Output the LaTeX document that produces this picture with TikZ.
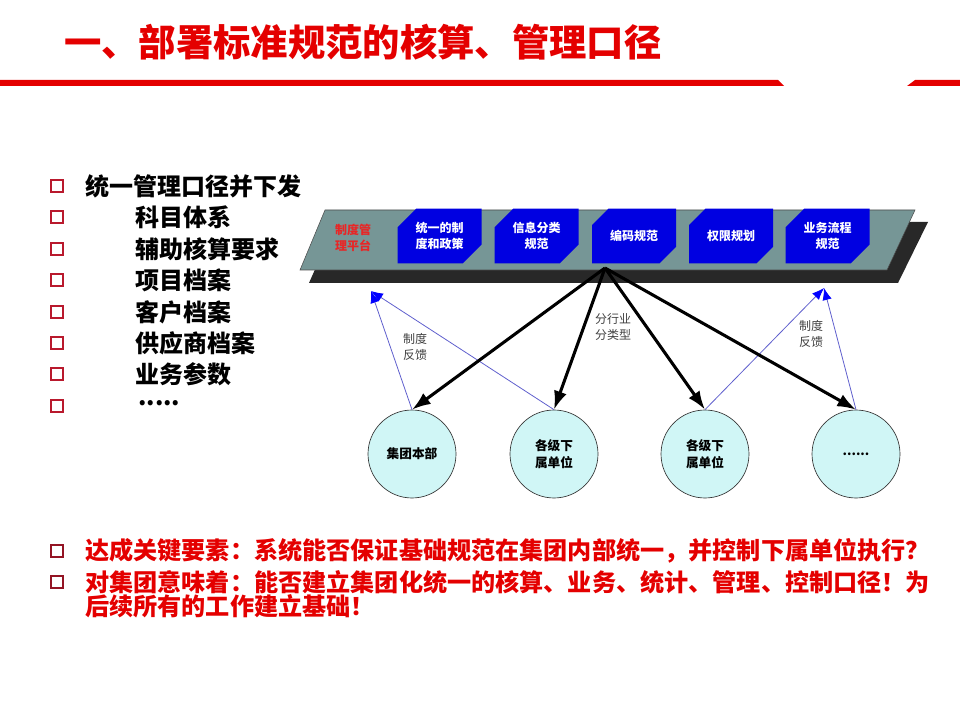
\documentclass[tikz,border=0pt]{standalone}
\usepackage{fontspec}
\setmainfont{Noto Sans CJK SC}
\usetikzlibrary{arrows.meta,shapes.misc}
\definecolor{titlered}{RGB}{228,0,0}
\definecolor{checkred}{RGB}{185,25,45}
\definecolor{ruleblue}{RGB}{0,0,225}
\definecolor{platgray}{RGB}{118,150,150}
\definecolor{shadowgray}{RGB}{40,40,40}
\definecolor{unitcyan}{RGB}{208,246,246}
\definecolor{feedblue}{RGB}{95,95,205}

\begin{document}
\begin{tikzpicture}[x=0.75pt,y=-0.75pt]
\tikzstyle{check box}=[draw=checkred,line width=1.1pt,minimum size=9pt,inner sep=0,fill=white]
\tikzstyle{item}=[anchor=west,inner sep=0,font=\fontsize{18}{20}\bfseries]
\tikzstyle{key item}=[anchor=west,inner sep=0,text=titlered,font=\fontsize{18.1}{20}\bfseries]
\tikzstyle{rule box}=[chamfered rectangle,chamfered rectangle corners={north west,south east},
    chamfered rectangle xsep=6pt,chamfered rectangle ysep=8pt,fill=ruleblue,
    minimum width=63pt,minimum height=41pt,inner sep=0,align=center,text=white,
    font=\fontsize{9}{12}\bfseries]
\tikzstyle{unit}=[circle,draw=black!80,line width=0.5pt,fill=unitcyan,minimum size=66pt,
    inner sep=0,align=center,font=\fontsize{9.5}{13}\bfseries]
\tikzstyle{down arrow}=[line width=2.3pt,-{Latex[length=14pt,width=10pt]}]
\tikzstyle{feed arrow}=[feedblue,line width=0.6pt,-{Latex[length=9pt,width=7pt,fill=blue,color=blue]}]
\tikzstyle{side note}=[inner sep=0,align=center,text=black!75,font=\fontsize{9}{12}\selectfont]

\useasboundingbox (0,0) rectangle (960,720);

% title and red rule
\node(title)[anchor=west,inner sep=0,text=titlered,font=\fontsize{28}{32}\bfseries] at (64,42)
    {一、部署标准规范的核算、管理口径};
\fill[titlered] (0,80) -- (778,80) -- (784,86) -- (0,86) -- cycle;
\fill[titlered] (915,80) -- (960,80) -- (960,86) -- (907,86) -- cycle;

% left list
\foreach \y in {186,217,249,280,312,343,374,406}
    \node[check box] at (57,\y) {};
\node(l1)[item] at (85,186) {统一管理口径并下发};
\node(l2)[item] at (135,217) {科目体系};
\node(l3)[item] at (135,249) {辅助核算要求};
\node(l4)[item] at (135,280) {项目档案};
\node(l5)[item] at (135,312) {客户档案};
\node(l6)[item] at (135,343) {供应商档案};
\node(l7)[item] at (135,374) {业务参数};
\node(l8)[item] at (138,403) {.....};

% platform with shadow
\fill[shadowgray] (336,222) -- (928,222) -- (898,283) -- (309,283) -- cycle;
\filldraw[fill=platgray,draw=black!70,line width=0.4pt] (325,210) -- (915,210) -- (887,270) -- (300,270) -- cycle;
\node(plat)[inner sep=0,align=center,text=titlered!85,font=\fontsize{9}{12}\bfseries] at (353,238) {制度管\\理平台};

\node(b1)[rule box] at (439.5,236) {统一的制\\度和政策};
\node(b2)[rule box] at (536.5,236) {信息分类\\规范};
\node(b3)[rule box] at (634,236) {编码规范};
\node(b4)[rule box] at (731,236) {权限规划};
\node(b5)[rule box] at (827.5,236) {业务流程\\规范};

\coordinate (hub) at (605,268);

% units
\node(c1)[unit] at (412,454) {集团本部};
\node(c2)[unit] at (554,454) {各级下\\属单位};
\node(c3)[unit] at (705,454) {各级下\\属单位};
\node(c4)[unit] at (856,454) {......};

% feedback
\coordinate (fbl) at (371,291);
\coordinate (fbr) at (824,288);
\draw[feed arrow] (c1.north) -- (fbl);
\draw[feed arrow] (c2.north) -- (fbl);
\draw[feed arrow] (c3.north) -- (fbr);
\draw[feed arrow] (c4.north) -- (fbr);
\node(n1)[side note] at (415,347) {制度\\反馈};
\node(n3)[side note] at (811,334) {制度\\反馈};

% issue rules
\draw[down arrow] (hub) -- (c1.north);
\draw[down arrow] (hub) -- (c2.north);
\draw[down arrow] (hub) -- (c3.north);
\draw[down arrow] (hub) -- (c4.north);
\node(n2)[side note] at (613,327) {分行业\\分类型};

% key points
\node[check box,draw=checkred!80!black] at (57,551) {};
\node[check box,draw=checkred!80!black] at (57,582) {};
\node(k1)[key item] at (85,551) {达成关键要素：系统能否保证基础规范在集团内部统一，并控制下属单位执行？};
\node(k2)[key item] at (85,582) {对集团意味着：能否建立集团化统一的核算、业务、统计、管理、控制口径！为};
\node(k3)[key item] at (85,606) {后续所有的工作建立基础！};
\end{tikzpicture}
\end{document}
